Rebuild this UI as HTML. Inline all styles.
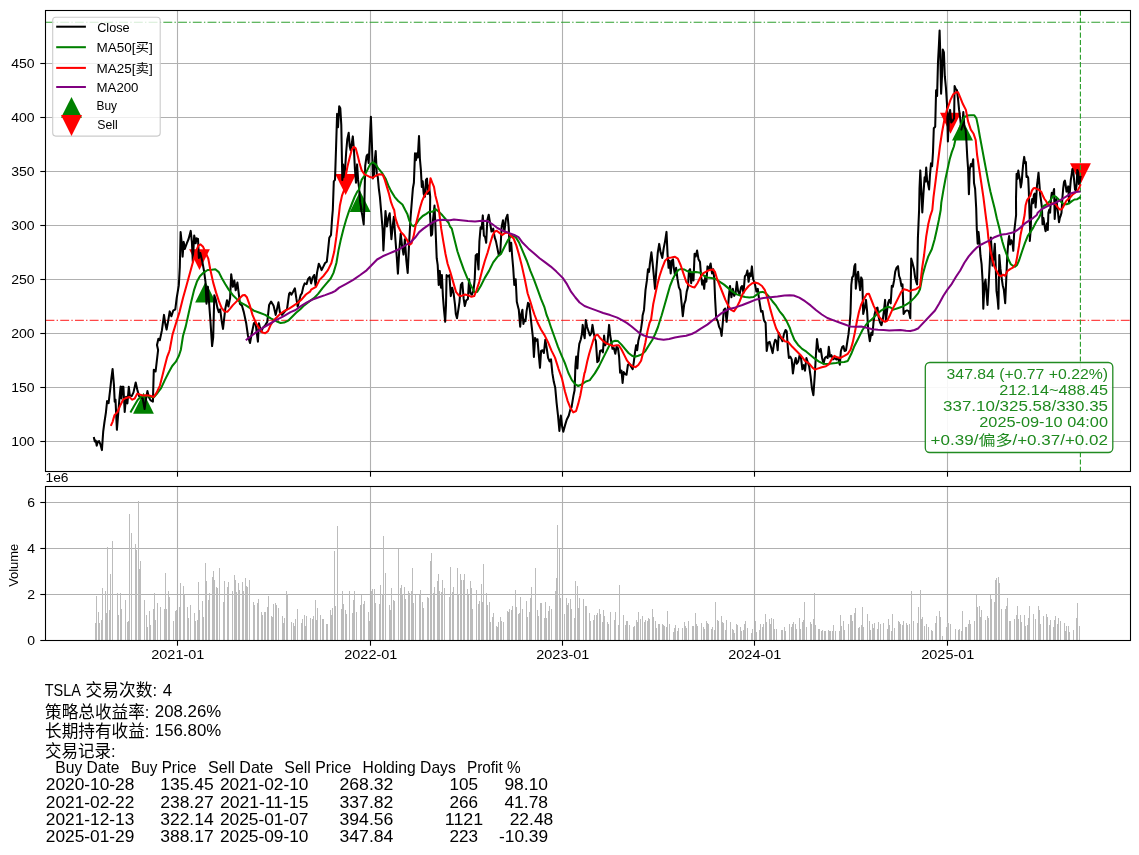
<!DOCTYPE html>
<html lang="zh"><head><meta charset="utf-8"><title>TSLA</title><style>html,body{margin:0;padding:0;background:#fff}svg{display:block}text{font-family:"Liberation Sans","Noto Sans CJK SC",sans-serif}</style></head><body>
<svg width="1139" height="855" viewBox="0 0 1139 855">
<rect width="1139" height="855" fill="#fff"/>
<defs><clipPath id="c1"><rect x="45.5" y="10.5" width="1085.0" height="461.0"/></clipPath><clipPath id="c2"><rect x="45.5" y="486.5" width="1085.0" height="154.0"/></clipPath></defs>
<g stroke="#b0b0b0" stroke-width="1.1" fill="none"><path d="M177.5 10.5V471.5"/><path d="M177.5 486.5V640.5"/><path d="M370.5 10.5V471.5"/><path d="M370.5 486.5V640.5"/><path d="M562.5 10.5V471.5"/><path d="M562.5 486.5V640.5"/><path d="M754.5 10.5V471.5"/><path d="M754.5 486.5V640.5"/><path d="M947.5 10.5V471.5"/><path d="M947.5 486.5V640.5"/><path d="M45.5 441.5H1130.5"/><path d="M45.5 387.5H1130.5"/><path d="M45.5 333.5H1130.5"/><path d="M45.5 279.5H1130.5"/><path d="M45.5 225.5H1130.5"/><path d="M45.5 171.5H1130.5"/><path d="M45.5 117.5H1130.5"/><path d="M45.5 63.5H1130.5"/><path d="M45.5 594.5H1130.5"/><path d="M45.5 548.5H1130.5"/><path d="M45.5 502.5H1130.5"/></g>
<path d="M95 622.7V640h1V622.7zM96 596.2V640h1V596.2zM98 612.2V640h1V612.2zM99 623.2V640h1V623.2zM101 619.8V640h1V619.8zM102 588.1V640h1V588.1zM105 591.0V640h1V591.0zM106 612.9V640h1V612.9zM107 547.0V640h1V547.0zM109 610.0V640h1V610.0zM110 574.1V640h1V574.1zM112 541.1V640h1V541.1zM117 593.2V640h1V593.2zM118 615.4V640h1V615.4zM120 593.2V640h1V593.2zM121 609.2V640h1V609.2zM125 600.1V640h1V600.1zM127 621.5V640h1V621.5zM128 620.8V640h1V620.8zM129 514.1V640h1V514.1zM131 533.3V640h1V533.3zM135 544.1V640h1V544.1zM136 549.7V640h1V549.7zM138 501.1V640h1V501.1zM139 568.7V640h1V568.7zM140 561.3V640h1V561.3zM144 600.1V640h1V600.1zM146 615.4V640h1V615.4zM147 627.2V640h1V627.2zM149 611.2V640h1V611.2zM150 625.2V640h1V625.2zM153 609.2V640h1V609.2zM154 593.2V640h1V593.2zM155 620.3V640h1V620.3zM157 603.3V640h1V603.3zM160 607.3V640h1V607.3zM164 609.2V640h1V609.2zM165 573.1V640h1V573.1zM166 609.2V640h1V609.2zM168 591.3V640h1V591.3zM169 596.9V640h1V596.9zM173 621.3V640h1V621.3zM175 611.2V640h1V611.2zM176 610.2V640h1V610.2zM179 607.3V640h1V607.3zM180 583.2V640h1V583.2zM183 586.1V640h1V586.1zM184 595.2V640h1V595.2zM187 607.3V640h1V607.3zM188 618.3V640h1V618.3zM190 605.3V640h1V605.3zM194 613.2V640h1V613.2zM195 621.3V640h1V621.3zM197 620.3V640h1V620.3zM198 582.2V640h1V582.2zM199 610.2V640h1V610.2zM202 601.1V640h1V601.1zM203 617.3V640h1V617.3zM205 563.0V640h1V563.0zM206 581.2V640h1V581.2zM208 600.1V640h1V600.1zM209 593.2V640h1V593.2zM212 577.0V640h1V577.0zM213 571.1V640h1V571.1zM214 580.2V640h1V580.2zM216 587.1V640h1V587.1zM217 588.1V640h1V588.1zM219 568.2V640h1V568.2zM223 602.3V640h1V602.3zM224 581.2V640h1V581.2zM227 587.1V640h1V587.1zM228 582.2V640h1V582.2zM232 591.3V640h1V591.3zM234 575.1V640h1V575.1zM235 580.2V640h1V580.2zM236 592.3V640h1V592.3zM238 583.2V640h1V583.2zM239 590.3V640h1V590.3zM242 582.2V640h1V582.2zM243 591.3V640h1V591.3zM245 578.0V640h1V578.0zM246 586.1V640h1V586.1zM247 587.1V640h1V587.1zM249 580.2V640h1V580.2zM253 602.3V640h1V602.3zM254 605.3V640h1V605.3zM257 603.3V640h1V603.3zM258 599.1V640h1V599.1zM261 612.2V640h1V612.2zM262 615.4V640h1V615.4zM264 612.2V640h1V612.2zM265 612.2V640h1V612.2zM267 607.3V640h1V607.3zM268 596.2V640h1V596.2zM271 616.4V640h1V616.4zM272 617.3V640h1V617.3zM273 604.3V640h1V604.3zM275 603.3V640h1V603.3zM276 605.3V640h1V605.3zM278 608.2V640h1V608.2zM282 616.4V640h1V616.4zM283 623.2V640h1V623.2zM284 618.3V640h1V618.3zM286 591.3V640h1V591.3zM287 594.2V640h1V594.2zM291 622.3V640h1V622.3zM293 623.2V640h1V623.2zM294 626.4V640h1V626.4zM295 619.3V640h1V619.3zM297 609.2V640h1V609.2zM301 623.2V640h1V623.2zM302 619.3V640h1V619.3zM304 615.4V640h1V615.4zM305 626.4V640h1V626.4zM306 616.4V640h1V616.4zM310 618.3V640h1V618.3zM312 619.3V640h1V619.3zM313 616.4V640h1V616.4zM315 600.1V640h1V600.1zM316 620.3V640h1V620.3zM317 608.2V640h1V608.2zM320 615.4V640h1V615.4zM322 619.3V640h1V619.3zM323 619.3V640h1V619.3zM326 624.2V640h1V624.2zM327 624.2V640h1V624.2zM330 610.2V640h1V610.2zM331 615.4V640h1V615.4zM332 608.2V640h1V608.2zM334 551.0V640h1V551.0zM335 606.3V640h1V606.3zM337 526.1V640h1V526.1zM341 609.2V640h1V609.2zM342 591.3V640h1V591.3zM343 604.3V640h1V604.3zM345 610.2V640h1V610.2zM346 614.4V640h1V614.4zM349 591.3V640h1V591.3zM352 613.2V640h1V613.2zM353 600.1V640h1V600.1zM354 591.3V640h1V591.3zM356 612.2V640h1V612.2zM360 605.3V640h1V605.3zM361 595.2V640h1V595.2zM363 604.3V640h1V604.3zM364 601.1V640h1V601.1zM368 612.2V640h1V612.2zM369 621.3V640h1V621.3zM371 591.3V640h1V591.3zM372 589.3V640h1V589.3zM374 589.3V640h1V589.3zM375 603.3V640h1V603.3zM379 604.3V640h1V604.3zM380 585.1V640h1V585.1zM382 594.2V640h1V594.2zM383 536.2V640h1V536.2zM385 573.1V640h1V573.1zM389 605.3V640h1V605.3zM390 610.2V640h1V610.2zM391 588.1V640h1V588.1zM393 600.1V640h1V600.1zM394 601.1V640h1V601.1zM398 549.0V640h1V549.0zM400 588.1V640h1V588.1zM401 585.1V640h1V585.1zM402 594.2V640h1V594.2zM404 587.1V640h1V587.1zM405 599.1V640h1V599.1zM408 591.3V640h1V591.3zM409 593.2V640h1V593.2zM411 591.3V640h1V591.3zM412 568.2V640h1V568.2zM413 603.3V640h1V603.3zM415 595.2V640h1V595.2zM419 595.2V640h1V595.2zM420 590.3V640h1V590.3zM422 602.3V640h1V602.3zM423 608.2V640h1V608.2zM427 597.2V640h1V597.2zM428 598.2V640h1V598.2zM430 561.0V640h1V561.0zM431 553.2V640h1V553.2zM433 593.2V640h1V593.2zM434 587.1V640h1V587.1zM437 581.2V640h1V581.2zM438 574.1V640h1V574.1zM439 591.3V640h1V591.3zM441 592.3V640h1V592.3zM442 580.2V640h1V580.2zM444 588.1V640h1V588.1zM449 597.2V640h1V597.2zM450 567.2V640h1V567.2zM452 592.3V640h1V592.3zM453 587.1V640h1V587.1zM457 568.2V640h1V568.2zM458 594.2V640h1V594.2zM460 574.1V640h1V574.1zM461 580.2V640h1V580.2zM463 580.2V640h1V580.2zM464 574.1V640h1V574.1zM467 589.3V640h1V589.3zM468 595.2V640h1V595.2zM470 581.2V640h1V581.2zM471 588.1V640h1V588.1zM472 609.2V640h1V609.2zM476 590.3V640h1V590.3zM478 604.3V640h1V604.3zM479 601.1V640h1V601.1zM481 584.1V640h1V584.1zM482 602.3V640h1V602.3zM483 564.2V640h1V564.2zM486 593.2V640h1V593.2zM487 605.3V640h1V605.3zM489 602.3V640h1V602.3zM490 622.3V640h1V622.3zM492 617.3V640h1V617.3zM493 613.2V640h1V613.2zM496 626.4V640h1V626.4zM497 627.4V640h1V627.4zM498 622.3V640h1V622.3zM500 617.3V640h1V617.3zM501 621.3V640h1V621.3zM503 622.3V640h1V622.3zM507 611.2V640h1V611.2zM508 612.2V640h1V612.2zM509 609.2V640h1V609.2zM511 610.2V640h1V610.2zM512 606.3V640h1V606.3zM515 590.3V640h1V590.3zM516 607.3V640h1V607.3zM518 614.4V640h1V614.4zM519 613.2V640h1V613.2zM520 597.2V640h1V597.2zM522 609.2V640h1V609.2zM526 601.1V640h1V601.1zM527 617.3V640h1V617.3zM529 612.2V640h1V612.2zM530 598.2V640h1V598.2zM531 587.1V640h1V587.1zM535 568.2V640h1V568.2zM537 610.2V640h1V610.2zM538 616.4V640h1V616.4zM540 603.3V640h1V603.3zM541 603.3V640h1V603.3zM544 618.3V640h1V618.3zM545 602.3V640h1V602.3zM546 618.3V640h1V618.3zM548 611.2V640h1V611.2zM549 606.3V640h1V606.3zM551 609.2V640h1V609.2zM555 591.3V640h1V591.3zM556 578.0V640h1V578.0zM557 525.2V640h1V525.2zM559 549.0V640h1V549.0zM560 598.2V640h1V598.2zM564 614.4V640h1V614.4zM566 598.2V640h1V598.2zM567 605.3V640h1V605.3zM568 603.3V640h1V603.3zM570 599.1V640h1V599.1zM571 609.2V640h1V609.2zM574 618.3V640h1V618.3zM575 581.2V640h1V581.2zM577 586.1V640h1V586.1zM578 608.2V640h1V608.2zM579 598.2V640h1V598.2zM583 599.1V640h1V599.1zM585 606.3V640h1V606.3zM586 606.3V640h1V606.3zM589 613.2V640h1V613.2zM590 621.3V640h1V621.3zM593 620.3V640h1V620.3zM594 615.4V640h1V615.4zM596 615.4V640h1V615.4zM597 613.2V640h1V613.2zM599 609.2V640h1V609.2zM600 614.4V640h1V614.4zM602 622.3V640h1V622.3zM603 610.2V640h1V610.2zM604 616.4V640h1V616.4zM607 622.3V640h1V622.3zM608 624.2V640h1V624.2zM610 612.2V640h1V612.2zM614 620.3V640h1V620.3zM615 612.2V640h1V612.2zM618 625.2V640h1V625.2zM619 585.1V640h1V585.1zM623 615.4V640h1V615.4zM625 625.2V640h1V625.2zM626 621.3V640h1V621.3zM627 621.3V640h1V621.3zM629 625.2V640h1V625.2zM633 627.4V640h1V627.4zM634 626.4V640h1V626.4zM636 620.3V640h1V620.3zM637 622.3V640h1V622.3zM638 612.2V640h1V612.2zM640 619.3V640h1V619.3zM642 616.4V640h1V616.4zM644 622.3V640h1V622.3zM645 620.3V640h1V620.3zM647 621.3V640h1V621.3zM648 618.3V640h1V618.3zM649 619.3V640h1V619.3zM652 609.2V640h1V609.2zM653 617.3V640h1V617.3zM655 621.3V640h1V621.3zM656 628.4V640h1V628.4zM658 624.2V640h1V624.2zM659 624.2V640h1V624.2zM662 624.2V640h1V624.2zM663 625.2V640h1V625.2zM664 626.4V640h1V626.4zM666 627.4V640h1V627.4zM667 611.2V640h1V611.2zM669 624.2V640h1V624.2zM673 632.3V640h1V632.3zM674 628.4V640h1V628.4zM675 625.2V640h1V625.2zM677 631.3V640h1V631.3zM678 628.4V640h1V628.4zM682 628.4V640h1V628.4zM684 622.3V640h1V622.3zM685 626.4V640h1V626.4zM686 628.4V640h1V628.4zM688 621.3V640h1V621.3zM692 626.4V640h1V626.4zM693 626.4V640h1V626.4zM695 613.2V640h1V613.2zM696 624.2V640h1V624.2zM697 626.4V640h1V626.4zM701 623.2V640h1V623.2zM703 627.4V640h1V627.4zM704 629.4V640h1V629.4zM706 621.3V640h1V621.3zM707 623.2V640h1V623.2zM708 624.2V640h1V624.2zM711 629.4V640h1V629.4zM712 627.4V640h1V627.4zM714 630.4V640h1V630.4zM715 602.3V640h1V602.3zM717 620.3V640h1V620.3zM718 621.3V640h1V621.3zM721 616.4V640h1V616.4zM722 622.3V640h1V622.3zM723 623.2V640h1V623.2zM725 630.4V640h1V630.4zM726 620.3V640h1V620.3zM730 622.3V640h1V622.3zM732 629.4V640h1V629.4zM733 630.4V640h1V630.4zM734 633.3V640h1V633.3zM736 624.2V640h1V624.2zM737 625.2V640h1V625.2zM740 627.4V640h1V627.4zM741 631.3V640h1V631.3zM743 630.4V640h1V630.4zM744 624.2V640h1V624.2zM745 621.3V640h1V621.3zM747 628.4V640h1V628.4zM751 633.3V640h1V633.3zM752 629.4V640h1V629.4zM755 621.3V640h1V621.3zM756 632.3V640h1V632.3zM759 630.4V640h1V630.4zM760 624.2V640h1V624.2zM762 627.4V640h1V627.4zM763 624.2V640h1V624.2zM765 614.4V640h1V614.4zM766 622.3V640h1V622.3zM769 619.3V640h1V619.3zM770 624.2V640h1V624.2zM771 618.3V640h1V618.3zM773 619.3V640h1V619.3zM774 629.4V640h1V629.4zM776 629.4V640h1V629.4zM781 630.4V640h1V630.4zM782 630.4V640h1V630.4zM784 627.4V640h1V627.4zM785 631.3V640h1V631.3zM789 624.2V640h1V624.2zM791 627.4V640h1V627.4zM792 624.2V640h1V624.2zM793 622.3V640h1V622.3zM795 624.2V640h1V624.2zM796 629.4V640h1V629.4zM799 618.3V640h1V618.3zM800 629.4V640h1V629.4zM802 622.3V640h1V622.3zM803 620.3V640h1V620.3zM804 602.3V640h1V602.3zM806 627.4V640h1V627.4zM810 622.3V640h1V622.3zM811 624.2V640h1V624.2zM813 619.3V640h1V619.3zM814 593.2V640h1V593.2zM815 625.2V640h1V625.2zM818 629.4V640h1V629.4zM819 629.4V640h1V629.4zM821 631.3V640h1V631.3zM822 630.4V640h1V630.4zM824 631.3V640h1V631.3zM825 631.3V640h1V631.3zM828 630.4V640h1V630.4zM829 631.3V640h1V631.3zM830 631.3V640h1V631.3zM832 631.3V640h1V631.3zM833 625.2V640h1V625.2zM835 631.3V640h1V631.3zM839 631.3V640h1V631.3zM840 615.4V640h1V615.4zM841 626.4V640h1V626.4zM843 621.3V640h1V621.3zM844 630.4V640h1V630.4zM848 624.2V640h1V624.2zM850 615.4V640h1V615.4zM851 615.4V640h1V615.4zM852 621.3V640h1V621.3zM854 613.2V640h1V613.2zM855 608.2V640h1V608.2zM858 628.4V640h1V628.4zM859 627.4V640h1V627.4zM861 625.2V640h1V625.2zM862 607.3V640h1V607.3zM863 627.4V640h1V627.4zM867 614.4V640h1V614.4zM869 621.3V640h1V621.3zM870 630.4V640h1V630.4zM872 624.2V640h1V624.2zM873 628.4V640h1V628.4zM874 623.2V640h1V623.2zM877 629.4V640h1V629.4zM878 622.3V640h1V622.3zM880 624.2V640h1V624.2zM883 623.2V640h1V623.2zM887 629.4V640h1V629.4zM888 619.3V640h1V619.3zM889 625.2V640h1V625.2zM891 631.3V640h1V631.3zM892 614.4V640h1V614.4zM894 628.4V640h1V628.4zM898 621.3V640h1V621.3zM899 622.3V640h1V622.3zM900 624.2V640h1V624.2zM902 625.2V640h1V625.2zM903 621.3V640h1V621.3zM906 623.2V640h1V623.2zM907 625.2V640h1V625.2zM909 624.2V640h1V624.2zM911 591.3V640h1V591.3zM913 621.3V640h1V621.3zM917 623.2V640h1V623.2zM918 607.3V640h1V607.3zM920 590.3V640h1V590.3zM921 619.3V640h1V619.3zM922 617.3V640h1V617.3zM924 626.4V640h1V626.4zM926 624.2V640h1V624.2zM928 627.4V640h1V627.4zM931 630.4V640h1V630.4zM932 631.3V640h1V631.3zM935 623.2V640h1V623.2zM936 616.4V640h1V616.4zM939 611.2V640h1V611.2zM940 617.3V640h1V617.3zM942 636.3V640h1V636.3zM946 627.4V640h1V627.4zM947 622.3V640h1V622.3zM948 623.2V640h1V623.2zM950 624.2V640h1V624.2zM955 629.4V640h1V629.4zM958 630.4V640h1V630.4zM959 629.4V640h1V629.4zM961 631.3V640h1V631.3zM962 611.2V640h1V611.2zM965 627.4V640h1V627.4zM966 627.4V640h1V627.4zM968 624.2V640h1V624.2zM969 620.3V640h1V620.3zM970 624.2V640h1V624.2zM974 621.3V640h1V621.3zM976 595.2V640h1V595.2zM977 607.3V640h1V607.3zM979 606.3V640h1V606.3zM980 617.3V640h1V617.3zM981 610.2V640h1V610.2zM985 620.3V640h1V620.3zM987 616.4V640h1V616.4zM988 618.3V640h1V618.3zM990 595.2V640h1V595.2zM991 599.1V640h1V599.1zM994 602.3V640h1V602.3zM995 580.2V640h1V580.2zM996 578.0V640h1V578.0zM998 577.3V640h1V577.3zM999 583.2V640h1V583.2zM1001 609.2V640h1V609.2zM1005 609.2V640h1V609.2zM1006 606.3V640h1V606.3zM1007 598.2V640h1V598.2zM1009 621.3V640h1V621.3zM1010 621.3V640h1V621.3zM1014 619.3V640h1V619.3zM1016 615.4V640h1V615.4zM1017 606.3V640h1V606.3zM1018 619.3V640h1V619.3zM1020 615.4V640h1V615.4zM1021 622.3V640h1V622.3zM1024 615.4V640h1V615.4zM1025 626.4V640h1V626.4zM1027 625.2V640h1V625.2zM1028 618.3V640h1V618.3zM1029 606.3V640h1V606.3zM1033 614.4V640h1V614.4zM1035 619.3V640h1V619.3zM1038 606.3V640h1V606.3zM1039 610.2V640h1V610.2zM1040 624.2V640h1V624.2zM1043 616.4V640h1V616.4zM1046 614.4V640h1V614.4zM1047 617.3V640h1V617.3zM1049 625.2V640h1V625.2zM1050 620.3V640h1V620.3zM1053 627.4V640h1V627.4zM1054 620.3V640h1V620.3zM1055 616.4V640h1V616.4zM1057 624.2V640h1V624.2zM1058 618.3V640h1V618.3zM1060 621.3V640h1V621.3zM1064 623.2V640h1V623.2zM1065 631.3V640h1V631.3zM1066 626.4V640h1V626.4zM1068 626.4V640h1V626.4zM1069 632.3V640h1V632.3zM1073 630.4V640h1V630.4zM1076 618.3V640h1V618.3zM1077 603.3V640h1V603.3zM1079 626.4V640h1V626.4z" fill="#bcbcbc" shape-rendering="crispEdges"/>
<g clip-path="url(#c1)" fill="none" stroke-linejoin="round" stroke-linecap="butt">
<path d="M143.5 392.8L133.1 413.7H153.9Z" fill="#008000" stroke="none"/>
<path d="M205.5 281.7L195.1 302.6H215.9Z" fill="#008000" stroke="none"/>
<path d="M360.1 191.0L349.7 211.9H370.6Z" fill="#008000" stroke="none"/>
<path d="M962.5 119.7L952.0 140.6H973.0Z" fill="#008000" stroke="none"/>
<path d="M199.5 270.1L189.1 249.2H209.9Z" fill="#ff0000" stroke="none"/>
<path d="M345.6 195.0L335.2 174.1H356.1Z" fill="#ff0000" stroke="none"/>
<path d="M950.5 133.7L940.0 112.8H961.0Z" fill="#ff0000" stroke="none"/>
<path d="M1080.5 184.2L1070.0 163.3H1090.9Z" fill="#ff0000" stroke="none"/>
<path d="M45.5 22.2H1130.5" stroke="#2fa02f" stroke-width="1.15" stroke-dasharray="8.9 2.22 1.39 2.22"/>
<path d="M45.5 320.4H1130.5" stroke="#ff0000" stroke-opacity="0.72" stroke-width="1.39" stroke-dasharray="8.9 2.22 1.39 2.22"/>
<path d="M1080.4 10.5V471.5" stroke="#2fa02f" stroke-width="1.15" stroke-dasharray="5.14 2.22"/>
<polyline points="93.8,437.0 94.8,441.5 95.8,440.6 96.7,445.6 97.9,441.5 99.1,441.1 100.4,444.3 101.9,450.1 103.2,431.7 104.4,422.5 105.9,412.6 107.1,401.0 108.6,403.1 110.2,389.3 111.4,378.2 112.6,369.0 113.9,384.4 114.7,401.6 115.5,399.7 116.9,429.8 118.2,413.9 119.4,399.1 120.6,386.6 121.5,398.5 122.2,386.8 123.4,386.8 124.7,412.0 126.1,396.7 127.4,403.4 128.8,386.8 129.8,395.4 131.7,396.1 133.5,392.4 135.7,382.5 137.2,389.3 139.0,396.1 140.9,397.3 142.7,398.5 144.6,409.0 146.0,399.1 147.4,391.1 148.9,397.3 150.7,400.4 152.9,401.6 153.8,369.7 155.6,371.5 156.8,361.1 158.1,350.0 157.0,345.0 158.4,338.8 159.8,340.2 161.9,330.4 164.0,314.9 165.2,323.3 166.6,329.6 168.0,321.9 169.7,311.4 171.4,316.3 173.2,310.7 175.3,309.3 176.7,298.0 178.8,285.4 179.8,267.1 180.6,232.0 182.0,245.4 182.6,256.6 183.7,241.9 184.8,248.9 186.8,243.3 188.6,239.0 190.7,230.9 191.9,241.9 192.8,261.5 194.2,235.5 195.7,243.3 196.6,238.3 198.0,239.0 198.9,258.0 200.3,253.1 202.3,261.5 204.1,271.4 205.5,281.9 206.5,303.7 207.9,286.8 209.0,301.6 210.4,320.5 212.1,346.1 213.2,337.4 214.3,295.2 215.7,299.4 217.4,307.9 218.8,312.1 220.2,309.3 221.6,320.5 223.0,328.9 225.2,309.3 227.0,300.2 228.4,306.5 230.1,298.0 231.2,274.2 232.9,286.8 234.3,280.5 235.7,290.3 237.4,282.6 238.8,293.8 239.9,303.7 242.0,305.8 243.8,312.1 246.2,323.3 248.0,336.0 250.0,343.0 251.8,333.2 253.9,323.3 255.4,321.9 257.9,341.6 258.9,323.3 261.0,331.8 263.1,327.5 265.2,325.4 267.3,321.9 269.1,305.1 271.1,301.6 273.6,305.8 275.7,314.9 278.5,302.3 279.9,312.1 282.0,314.9 284.9,311.4 287.0,309.3 289.1,293.8 290.0,292.5 291.4,294.6 293.1,291.8 294.9,288.3 296.3,298.2 297.7,306.6 299.1,301.0 300.5,295.4 301.9,293.2 303.3,286.9 304.7,283.4 306.6,284.1 308.0,279.2 309.7,277.1 311.1,283.4 312.5,277.8 314.2,275.0 315.6,285.5 317.0,272.9 318.8,263.7 320.2,266.6 321.6,270.1 323.7,265.9 325.1,263.0 326.8,261.6 327.9,251.8 329.3,237.8 331.0,235.0 332.1,218.1 332.8,210.0 333.8,181.3 335.0,179.9 336.1,146.2 337.1,113.9 338.0,127.2 339.2,106.2 340.3,108.3 341.3,125.1 342.3,179.9 343.1,164.4 344.1,177.1 345.1,168.7 346.2,151.8 347.3,139.2 348.7,132.8 349.7,146.2 350.7,150.4 351.8,143.4 352.8,136.4 353.9,149.0 354.9,168.7 356.0,182.7 357.1,164.4 358.1,179.9 359.1,188.3 360.2,202.4 361.6,210.0 360.9,208.3 362.3,215.3 363.7,224.4 364.4,204.0 365.2,165.9 366.6,156.0 367.5,154.6 368.7,163.0 369.8,140.6 370.9,116.7 372.0,146.2 372.9,178.5 374.0,174.3 374.8,160.2 375.7,151.1 376.8,174.3 377.8,177.1 378.8,188.3 379.9,196.8 381.3,213.2 382.7,230.7 383.4,250.4 384.4,232.1 385.5,211.1 386.9,226.5 388.3,218.1 389.7,213.2 391.4,239.2 392.8,225.1 393.9,216.7 395.4,239.2 396.8,257.4 397.9,273.6 399.3,250.4 400.7,233.5 402.1,246.2 403.5,254.6 404.9,239.2 406.3,260.2 407.7,272.9 409.1,243.4 410.5,218.1 412.2,197.0 412.9,188.3 413.9,182.7 415.0,153.2 416.0,160.2 417.0,153.2 417.8,157.4 419.0,136.1 419.9,158.8 420.9,170.1 421.8,186.9 422.7,181.3 423.7,193.9 424.9,196.8 426.0,179.9 427.0,178.5 427.9,193.9 429.1,185.5 430.2,196.8 430.0,213.3 431.1,235.7 432.1,234.3 433.1,218.9 434.5,205.5 435.6,230.1 436.7,258.2 437.7,265.2 438.7,284.9 439.8,270.9 441.0,287.7 441.9,275.1 442.9,296.1 444.0,310.0 445.2,321.8 446.0,305.0 446.6,275.1 448.0,276.5 449.4,275.1 450.8,296.1 452.2,287.7 453.6,293.3 455.0,304.6 455.8,314.0 457.0,318.3 458.6,308.0 459.5,301.8 460.9,284.9 462.3,282.8 463.7,298.9 464.8,306.0 466.2,300.4 467.9,298.9 469.1,279.3 470.5,293.3 471.9,294.7 473.5,290.5 474.7,279.3 475.7,255.4 477.1,254.0 478.5,269.4 479.4,241.4 480.6,227.3 481.7,228.7 482.8,215.4 483.9,235.7 485.1,237.1 486.2,242.8 487.3,220.3 488.7,214.7 490.1,223.1 491.5,231.5 493.2,228.7 494.6,237.1 496.0,241.4 497.4,248.4 498.8,255.4 500.2,254.0 501.6,227.3 503.0,220.3 504.4,231.5 505.9,218.9 507.5,214.7 508.7,227.3 509.8,251.2 511.2,242.8 512.2,256.8 513.2,268.0 514.3,284.9 515.7,279.3 516.8,301.8 518.2,307.4 518.8,309.8 520.2,326.7 521.3,314.0 522.4,309.8 523.4,323.9 524.4,319.7 525.5,321.1 526.6,311.2 528.0,302.8 529.2,304.2 530.3,314.0 531.7,326.7 532.8,336.5 533.9,356.9 535.1,337.9 536.2,340.7 537.5,339.3 538.9,356.2 540.0,367.8 541.1,350.9 542.5,350.2 543.9,353.0 545.3,339.7 546.7,348.1 548.1,357.9 549.6,361.4 551.0,359.3 552.4,373.4 553.8,381.8 555.2,387.4 556.6,402.9 558.0,415.5 559.4,431.0 560.8,415.5 562.2,426.8 563.3,431.7 565.0,425.4 566.7,419.7 568.8,415.5 570.2,409.9 571.6,407.1 573.4,395.9 574.6,390.2 575.4,366.4 576.2,356.5 577.4,368.5 578.2,353.7 579.3,343.9 580.7,339.7 581.9,334.0 582.7,324.9 583.8,334.0 584.7,338.3 585.8,320.0 587.1,327.0 588.5,331.2 589.9,335.5 591.3,333.3 592.5,324.9 593.7,332.6 594.8,338.3 595.9,341.1 597.3,362.1 598.7,360.7 600.1,350.9 601.5,350.2 602.9,352.3 604.1,335.5 605.2,345.3 606.3,342.5 607.4,343.2 609.1,324.9 610.2,335.5 611.4,342.5 612.5,348.8 613.9,348.1 615.3,353.7 616.6,346.7 618.0,348.1 619.1,356.5 620.1,372.7 621.5,370.6 622.6,382.9 623.7,372.0 625.1,374.1 626.5,374.8 627.9,365.0 629.3,363.5 631.0,366.4 632.7,369.2 633.8,362.1 635.0,352.3 636.1,345.3 637.2,350.2 638.3,341.1 639.7,335.5 641.1,328.4 642.3,320.0 642.6,315.5 644.0,309.9 645.5,290.2 646.9,280.4 648.0,269.2 649.0,272.0 649.9,263.5 651.4,252.3 652.5,262.1 653.6,273.4 655.0,288.8 656.4,269.2 657.8,252.3 659.2,243.9 660.6,252.3 662.3,257.9 663.7,248.1 665.1,241.1 666.5,231.9 667.6,255.1 668.6,267.8 669.6,260.7 670.7,273.4 671.9,260.7 673.0,259.3 673.8,267.8 675.0,274.8 676.1,267.8 677.5,279.0 678.9,287.4 680.3,290.2 681.7,304.3 682.8,316.2 684.2,304.3 685.6,300.1 686.7,291.6 687.9,287.4 689.0,270.6 690.1,269.2 691.2,283.2 692.4,273.4 693.5,280.4 694.6,253.7 695.7,256.5 697.1,250.6 698.5,259.3 700.0,262.1 701.1,276.2 702.2,284.6 703.0,280.4 704.2,288.8 705.3,276.2 706.4,281.8 707.5,266.4 708.9,269.2 710.6,263.5 712.0,273.4 713.2,269.2 714.3,279.0 715.1,298.7 716.2,318.3 717.7,321.1 719.1,326.8 720.5,329.6 721.6,335.9 722.7,323.9 723.8,309.9 725.2,308.5 726.6,321.8 727.8,309.9 728.9,295.9 730.0,286.0 731.4,297.3 732.8,288.8 734.2,295.9 735.6,293.0 736.8,281.8 738.2,291.6 739.6,294.4 741.0,287.4 742.1,286.0 743.5,293.0 744.9,276.2 746.3,274.8 747.4,270.6 748.6,281.8 749.7,273.4 750.8,276.2 751.9,266.4 753.1,279.0 754.2,281.8 755.3,286.0 756.4,291.6 757.8,288.8 759.0,298.7 761.1,311.7 762.5,311.0 763.9,320.1 765.6,322.9 766.7,351.0 768.1,342.6 769.6,341.9 771.0,346.8 772.6,353.1 774.0,344.0 775.2,339.8 776.6,341.2 777.7,350.3 778.8,332.8 779.9,335.6 781.1,338.4 782.5,341.2 783.9,334.2 785.6,330.0 786.7,331.4 787.8,346.8 788.9,358.0 790.3,356.6 791.7,359.4 792.9,373.5 794.3,363.7 795.7,358.0 796.8,363.7 798.2,361.6 799.6,355.2 801.0,358.0 802.4,369.3 803.8,365.1 805.0,370.7 806.4,358.0 807.8,362.3 809.2,366.5 810.6,376.3 812.0,388.9 813.4,395.3 814.8,374.9 815.9,355.2 817.0,339.1 818.2,348.2 819.3,351.7 820.7,348.9 822.1,358.0 823.5,363.7 824.9,358.0 826.3,356.6 827.7,358.0 828.8,346.8 830.0,356.6 831.4,355.2 833.0,359.4 834.7,358.0 836.4,359.4 838.1,358.0 839.8,364.8 840.9,351.0 842.3,346.8 843.4,346.1 844.6,351.0 846.0,350.3 847.4,341.2 848.5,334.2 849.6,324.3 850.5,313.1 851.3,285.0 852.2,277.4 853.3,276.0 854.4,266.2 855.3,264.1 855.8,288.7 857.0,277.4 858.1,271.8 858.9,280.2 860.1,290.1 861.2,277.4 862.3,280.2 863.2,313.9 864.6,308.3 866.0,299.9 867.1,311.1 868.2,330.0 869.8,341.2 871.3,332.8 872.4,334.9 873.5,322.4 874.7,313.9 876.1,308.3 877.5,307.6 878.6,316.8 880.0,322.4 881.4,325.2 882.8,319.6 883.9,311.1 885.1,299.9 885.9,321.0 887.0,311.1 888.2,302.7 889.3,299.9 890.7,303.4 891.8,285.9 892.9,286.6 894.1,280.2 895.2,271.8 896.6,267.6 898.0,266.2 899.1,276.0 900.2,278.8 901.4,285.9 902.5,284.4 903.6,313.9 905.3,311.1 907.0,310.4 908.7,311.1 910.3,318.2 911.2,258.5 912.6,263.4 914.0,269.0 915.1,277.4 916.2,281.6 917.1,284.4 917.9,238.1 918.5,224.0 919.1,210.0 919.5,188.7 920.3,170.4 921.2,188.7 922.3,212.5 923.4,194.3 924.6,177.4 925.4,181.6 926.2,167.6 927.1,180.2 927.9,183.0 929.1,189.4 929.9,176.0 931.0,163.4 932.1,166.2 933.0,152.1 933.8,128.3 935.2,126.8 936.1,90.2 937.1,95.9 938.0,62.1 938.9,45.3 939.6,30.5 940.3,55.1 941.1,93.7 942.0,76.2 942.8,49.5 943.9,52.3 944.8,76.2 945.9,87.4 947.0,104.3 947.9,141.5 949.0,115.5 950.1,109.9 951.2,122.5 952.6,121.1 954.1,118.3 954.6,86.0 955.7,88.8 956.9,90.2 958.0,98.7 959.1,109.9 960.2,118.3 961.4,129.6 962.5,123.9 963.3,112.0 964.4,126.8 965.6,129.6 966.4,140.9 967.3,157.8 968.1,169.0 968.9,194.3 969.8,169.0 970.9,164.1 972.0,166.2 973.2,159.2 974.0,183.0 975.1,188.7 976.2,208.3 976.8,229.0 977.7,243.8 978.5,231.9 979.6,243.1 980.5,255.7 981.6,264.2 982.7,282.4 983.3,308.8 984.4,285.2 985.5,279.6 986.6,293.7 987.5,304.9 988.6,285.2 989.7,264.2 990.9,237.5 991.7,251.5 992.5,265.6 993.7,257.1 994.8,243.8 995.6,262.8 996.5,290.9 997.6,299.3 998.4,308.8 999.3,255.0 1000.4,268.4 1001.5,276.8 1002.7,285.2 1003.8,289.4 1005.2,303.2 1006.3,278.2 1007.2,257.1 1008.3,241.7 1009.1,236.1 1010.2,244.5 1011.4,240.3 1012.5,243.1 1013.3,250.8 1014.2,231.9 1015.3,222.0 1016.1,215.0 1016.0,199.0 1016.6,173.7 1017.4,179.0 1018.3,170.6 1019.1,175.8 1020.0,180.0 1020.8,187.4 1021.7,182.1 1022.5,171.6 1023.3,163.2 1024.2,156.9 1025.0,163.2 1025.9,162.1 1026.5,176.9 1027.4,176.3 1028.2,177.9 1028.8,190.6 1029.5,213.7 1030.1,230.0 1029.8,241.0 1030.7,230.0 1031.4,205.3 1032.2,199.0 1033.0,203.2 1033.9,194.8 1034.7,193.7 1035.6,207.4 1036.2,199.0 1037.0,185.3 1037.7,180.0 1038.5,172.7 1039.4,184.2 1040.2,194.8 1041.0,200.1 1041.9,207.4 1042.5,224.3 1043.4,218.0 1044.2,223.2 1045.3,230.0 1045.6,231.2 1047.0,223.4 1047.8,230.0 1048.4,212.7 1049.3,209.5 1050.1,212.7 1051.0,199.0 1051.8,192.7 1052.6,194.8 1053.5,191.6 1054.1,189.0 1054.7,219.0 1055.6,205.3 1056.4,199.0 1057.3,207.4 1058.1,213.7 1059.0,222.2 1059.8,218.0 1060.6,215.9 1061.5,212.7 1062.3,199.0 1063.2,188.5 1064.0,182.1 1064.9,180.6 1065.7,185.3 1066.5,191.6 1067.4,189.5 1068.2,186.4 1069.1,203.2 1069.9,190.6 1070.8,180.0 1071.6,174.8 1072.4,169.0 1073.3,171.6 1074.1,180.0 1075.0,189.5 1075.8,190.6 1076.7,184.2 1077.3,170.0 1078.1,171.6 1079.0,184.2 1079.8,182.1 1080.6,175.8" stroke="#000" stroke-width="2.05"/>
<polyline points="130.4,412.4 134.1,405.9 137.8,399.7 140.9,396.7 143.3,395.7 146.4,396.1 150.1,396.7 153.8,397.3 157.5,393.0 161.1,388.1 164.8,380.1 168.5,372.7 172.2,366.0 175.9,361.7 179.0,355.5 180.8,350.0 183.0,336.0 185.8,326.1 188.6,313.5 191.4,300.9 194.2,289.6 197.1,281.2 199.9,276.3 203.4,272.8 207.6,270.0 211.8,269.7 215.3,269.2 218.8,272.1 221.6,277.7 225.2,284.0 228.7,289.6 232.9,295.2 237.1,299.4 241.3,303.0 245.5,305.1 249.7,307.9 253.9,310.7 259.6,312.8 265.2,314.9 270.8,318.4 276.4,321.2 280.6,323.0 284.1,322.6 288.4,320.5 291.9,317.0 296.1,312.8 300.3,309.3 304.5,305.1 310.0,300.9 313.9,298.2 318.1,293.9 322.3,288.3 326.5,283.4 330.7,278.5 333.5,272.9 336.4,263.0 338.5,250.4 340.6,240.6 343.4,229.3 346.2,219.5 349.0,211.1 351.8,204.0 354.6,197.0 357.4,191.4 358.8,190.0 361.6,179.9 364.4,175.7 367.3,170.1 370.1,164.4 372.9,162.3 375.7,164.4 378.5,168.7 382.0,172.9 385.5,178.5 388.3,185.5 391.1,191.1 394.6,196.8 398.2,201.0 402.4,204.5 405.2,210.0 407.3,213.9 409.4,220.9 411.5,225.1 413.6,226.2 416.4,223.7 419.2,219.5 422.7,216.0 426.3,213.9 429.1,211.8 432.6,211.8 435.4,209.0 438.9,211.8 442.4,215.3 445.9,219.5 448.7,223.0 450.0,226.5 451.8,228.7 454.6,240.0 457.4,251.2 460.2,259.6 463.7,269.4 467.2,277.9 470.7,284.9 474.2,291.9 477.1,291.9 480.6,286.3 484.8,277.9 489.0,270.9 493.2,262.4 497.4,256.8 500.9,254.0 504.4,247.0 508.0,240.0 511.5,235.7 515.7,237.1 519.2,242.8 522.7,251.2 526.9,261.0 530.4,270.9 533.9,279.3 537.5,289.1 541.0,298.9 544.5,307.4 546.6,315.0 548.0,318.3 550.8,326.7 554.3,336.5 557.8,346.4 561.3,354.8 564.9,363.2 568.4,373.0 571.9,380.1 575.4,384.3 578.2,386.0 581.7,384.3 585.9,381.5 590.0,380.1 590.6,379.0 594.8,373.4 599.0,366.4 603.2,357.9 606.7,350.9 609.5,345.3 612.3,341.8 615.2,340.8 618.0,341.1 621.5,344.6 625.0,348.8 628.5,353.0 632.0,355.8 634.8,356.8 638.3,355.8 641.8,354.4 645.4,350.9 648.9,345.3 652.4,339.7 655.2,334.0 658.0,327.0 660.1,320.0 661.6,315.5 664.4,305.7 667.2,295.9 670.0,286.0 672.8,279.0 675.7,273.4 678.5,269.9 681.3,268.9 684.1,269.4 687.6,271.3 691.8,272.3 696.0,272.0 700.2,272.7 703.7,275.5 707.3,277.6 711.5,277.9 715.7,279.0 719.9,281.8 724.1,284.6 728.3,288.1 732.5,291.6 736.8,294.4 741.0,295.9 745.2,297.0 749.4,297.5 753.6,297.0 757.1,294.4 759.9,292.3 762.7,291.9 765.6,293.0 769.1,296.6 772.6,301.5 776.1,305.7 779.6,311.3 783.1,315.5 786.6,321.1 790.0,328.2 790.9,331.4 794.4,339.8 797.9,344.7 802.1,348.9 806.4,351.7 810.6,355.2 814.8,358.7 819.0,361.6 823.2,363.7 827.4,363.9 831.6,363.4 835.9,363.0 840.1,362.3 844.3,362.0 847.8,360.9 851.3,353.8 854.1,346.8 856.9,341.2 859.7,335.6 862.5,330.0 865.4,325.7 868.2,322.2 871.0,320.1 874.5,316.6 878.0,313.1 881.5,310.3 885.0,308.2 887.8,306.8 890.6,307.5 893.4,309.6 897.7,308.2 901.9,306.8 906.1,304.7 910.3,301.9 914.5,297.6 918.0,293.4 920.0,289.2 922.7,274.6 925.5,264.8 928.3,256.4 931.8,249.3 934.6,239.5 936.8,229.7 938.9,219.8 940.7,210.0 941.3,202.7 943.4,190.1 945.5,178.8 947.6,169.0 949.7,159.2 951.8,152.1 953.9,146.5 955.3,140.2 957.4,134.6 959.5,128.3 961.9,121.9 964.4,117.0 967.3,115.6 970.8,115.3 974.3,115.3 976.4,118.4 978.2,126.9 979.9,136.7 982.0,147.9 984.1,159.2 986.2,170.4 988.3,181.6 990.4,191.5 992.5,199.9 994.6,208.3 996.8,218.2 998.9,226.6 999.8,230.0 1000.3,233.3 1002.4,241.7 1004.5,248.7 1006.6,254.3 1008.7,260.0 1010.8,264.2 1012.9,265.8 1015.0,266.7 1017.1,264.9 1019.2,260.0 1022.0,251.5 1024.9,243.1 1027.7,236.1 1030.5,231.9 1033.3,227.6 1036.1,222.0 1038.9,217.8 1040.3,215.0 1041.9,208.5 1044.0,205.8 1046.1,204.8 1048.2,202.7 1050.3,200.6 1052.4,196.9 1054.0,195.8 1056.1,196.9 1058.2,199.0 1060.3,201.1 1062.4,203.2 1064.5,204.3 1066.6,204.3 1069.3,203.2 1071.9,201.1 1074.5,199.5 1077.2,199.2 1079.3,197.9 1080.6,196.9" stroke="#008000" stroke-width="2.05"/>
<polyline points="110.8,425.9 112.6,421.8 114.5,415.1 117.5,412.0 120.6,404.7 123.1,399.7 126.1,397.9 129.2,397.0 132.3,399.7 134.7,398.5 137.2,393.6 139.7,394.5 142.7,395.4 146.4,395.2 150.1,395.7 153.8,396.9 156.8,392.4 159.9,385.6 162.4,375.8 164.8,366.0 167.0,357.4 169.1,351.8 169.7,350.0 172.5,334.6 176.0,323.3 179.5,312.1 183.0,298.0 186.5,285.4 190.0,272.8 193.5,260.1 196.4,250.3 198.5,245.4 200.6,244.4 203.1,246.8 205.5,252.4 208.3,258.7 210.4,270.0 213.2,282.6 216.0,292.4 218.8,300.9 221.6,307.9 224.4,311.4 227.3,311.8 230.1,308.6 232.9,305.1 236.4,301.6 239.9,298.0 242.7,295.2 244.8,295.0 246.9,297.3 249.7,305.1 252.5,314.9 256.1,323.3 259.6,328.9 262.4,332.5 265.2,333.2 268.0,331.1 270.8,324.7 273.6,320.5 276.4,317.7 280.6,313.5 284.9,310.7 289.1,308.6 293.3,305.8 297.5,303.0 301.7,299.4 305.9,294.5 310.0,291.7 311.1,289.7 316.0,286.9 319.5,279.9 323.7,275.7 327.9,270.1 331.4,263.0 334.2,251.8 336.4,236.4 338.5,218.1 339.9,205.5 342.0,195.6 344.1,190.0 345.5,177.1 347.6,165.9 349.7,157.4 351.8,149.7 353.9,146.9 355.7,148.3 357.4,154.6 359.5,163.0 361.6,170.1 364.4,174.3 367.3,175.7 370.1,177.1 372.9,177.8 375.7,175.7 379.2,174.3 382.7,174.7 384.8,179.9 386.9,186.9 389.0,193.9 391.1,202.4 393.2,208.0 394.2,210.0 395.4,218.1 398.2,226.5 401.0,232.1 403.8,235.0 406.6,239.2 409.4,244.8 411.5,243.4 413.6,236.4 415.7,225.1 417.8,216.7 419.9,208.3 422.0,201.2 424.1,196.3 427.0,192.1 429.1,190.0 430.5,178.2 432.2,182.7 434.0,186.9 435.4,195.4 437.2,202.4 438.9,210.0 441.2,228.7 443.3,241.4 445.5,254.0 447.6,263.8 450.4,272.3 453.2,282.1 456.0,291.9 458.8,295.4 461.6,295.9 465.1,294.5 468.6,295.4 471.4,296.8 474.2,296.1 476.4,290.5 479.2,282.1 482.0,270.9 484.8,261.0 487.6,252.6 490.4,242.8 492.5,235.7 494.6,231.8 496.7,230.8 499.5,232.9 502.3,235.0 505.2,232.9 508.0,232.6 510.8,235.7 513.6,238.5 516.4,245.6 519.2,255.4 522.0,266.6 524.8,279.3 527.6,293.3 530.4,301.8 532.5,308.8 534.6,315.0 537.5,322.5 541.0,329.5 544.5,335.1 548.0,342.1 551.5,350.6 555.0,357.6 558.5,368.8 562.0,378.7 564.9,391.3 567.7,401.1 570.5,408.2 573.3,412.4 576.1,411.0 578.2,403.9 580.3,395.5 582.4,384.3 584.5,373.0 585.0,372.0 587.1,362.1 589.2,353.7 591.3,346.7 593.4,339.7 595.5,335.5 597.6,334.7 600.4,338.3 603.2,341.1 606.0,343.2 609.5,344.6 613.0,346.0 616.6,345.3 618.7,345.3 621.5,349.5 624.3,355.1 627.1,360.7 629.9,364.2 632.7,366.4 635.5,367.1 638.3,365.0 641.1,360.7 643.2,352.3 645.4,342.5 647.5,331.2 649.6,322.8 651.0,320.0 653.2,304.3 655.3,294.4 657.4,284.6 659.5,276.2 662.3,267.8 665.1,260.7 667.9,257.9 671.4,257.6 675.0,256.8 677.8,258.6 680.6,265.0 683.4,273.4 686.2,281.8 689.0,285.3 691.8,286.7 694.6,287.4 697.4,283.2 700.2,277.6 703.0,273.4 706.6,271.3 710.1,269.9 712.9,269.4 715.0,272.0 717.1,279.0 719.9,286.0 722.7,293.0 725.5,300.1 728.3,305.7 731.1,309.9 733.9,311.3 736.8,307.1 739.6,301.5 742.4,294.4 745.2,290.2 748.7,286.0 752.2,283.2 755.0,282.5 758.5,283.5 762.0,286.0 764.9,290.2 767.7,298.7 770.5,309.9 773.3,319.7 776.1,328.2 778.9,333.8 781.7,338.0 783.8,340.0 784.6,341.2 788.1,341.9 792.3,346.8 796.5,351.0 800.7,355.2 805.0,360.9 809.2,363.7 812.7,367.9 815.1,369.6 817.6,368.6 821.8,367.2 826.0,366.2 828.8,364.4 831.6,359.4 834.4,355.9 837.3,357.3 840.1,358.0 844.3,355.9 847.8,353.8 850.6,349.6 852.7,342.6 854.8,332.8 856.9,321.5 859.0,311.7 861.1,304.7 863.9,299.0 866.8,294.1 868.9,293.7 871.0,299.0 873.8,306.1 876.6,311.7 879.4,317.3 882.2,320.1 885.0,321.8 887.1,320.8 889.9,315.2 892.7,308.9 895.6,303.3 898.4,297.6 901.2,292.0 904.0,289.2 906.8,289.9 909.6,291.3 912.4,289.9 915.9,289.2 920.0,286.4 922.0,269.0 924.1,255.0 926.2,236.7 928.3,224.0 930.4,215.6 932.3,210.0 933.5,197.1 935.7,180.2 937.8,163.4 939.9,146.5 942.0,132.5 944.1,121.2 946.2,112.8 946.9,110.0 947.6,108.5 950.4,100.1 953.2,94.4 956.0,92.3 958.1,92.3 960.2,97.3 963.0,104.3 965.9,109.9 968.0,121.1 970.8,129.6 973.6,133.8 975.7,140.0 977.1,155.0 979.2,169.0 981.3,183.0 983.4,197.1 985.5,213.9 987.6,230.0 988.3,237.5 990.4,250.1 992.5,260.0 994.6,267.0 996.8,271.2 998.9,275.4 1001.0,276.1 1003.1,274.7 1005.2,275.7 1007.3,271.2 1010.1,269.1 1012.9,267.7 1015.7,264.2 1017.1,257.1 1019.0,245.9 1020.6,234.7 1022.7,224.8 1024.6,215.0 1025.6,205.3 1027.1,200.1 1028.7,197.9 1030.3,195.8 1031.9,190.6 1033.5,188.3 1035.0,187.9 1036.6,189.0 1038.2,189.3 1039.8,190.6 1041.4,192.1 1042.9,195.8 1044.5,199.0 1046.1,201.1 1047.7,204.3 1049.3,204.8 1051.4,203.7 1053.5,203.2 1055.6,204.3 1057.7,207.4 1059.8,209.5 1061.4,209.5 1063.0,207.4 1064.5,204.3 1066.1,201.1 1068.2,199.0 1070.3,197.4 1072.4,194.8 1074.5,193.2 1076.7,191.6 1078.2,189.5 1079.8,186.4 1080.6,184.2" stroke="#ff0000" stroke-width="2.05"/>
<polyline points="245.8,340.2 251.1,336.0 256.8,331.8 262.4,328.2 269.4,324.0 276.4,319.8 283.4,316.3 290.5,312.1 295.6,310.0 301.2,305.9 306.9,302.4 312.5,299.6 318.1,297.5 325.1,295.1 332.1,292.5 335.0,291.1 339.2,287.6 346.2,283.8 353.2,279.9 360.2,275.0 366.6,270.3 371.5,265.2 377.1,259.5 382.7,256.3 388.3,253.9 393.9,251.5 399.6,249.0 405.2,245.5 410.8,242.0 415.0,237.8 419.2,232.1 423.4,228.6 428.4,225.1 433.3,222.0 437.5,220.2 442.4,219.8 447.3,220.2 450.0,220.2 453.9,219.6 460.9,220.3 467.9,221.0 475.0,221.4 482.0,220.7 487.6,221.0 491.8,223.8 497.4,228.0 503.0,230.8 508.7,232.9 514.3,235.0 518.5,237.1 522.7,242.8 528.3,248.4 533.9,253.3 539.6,258.2 545.2,262.4 550.8,266.6 556.4,271.6 562.7,277.9 567.0,284.2 571.2,291.9 575.4,297.5 579.6,302.5 584.5,306.0 590.0,308.1 596.2,310.4 603.2,313.0 610.2,315.1 617.3,317.6 622.9,320.6 627.1,323.1 631.3,326.3 635.5,329.8 639.7,333.3 643.9,335.5 648.2,336.9 652.4,337.6 658.0,339.0 663.6,339.7 669.2,339.0 674.9,337.6 680.5,336.6 686.1,335.7 691.7,334.0 695.9,331.9 700.0,329.1 707.3,324.6 714.3,319.0 721.3,313.4 728.3,309.2 735.4,307.4 742.4,305.0 749.4,302.2 756.4,299.4 763.4,298.0 770.5,297.3 777.5,296.6 784.5,295.6 790.0,295.2 793.7,295.5 799.3,297.6 805.0,301.2 810.6,305.4 816.2,310.3 821.8,314.5 827.4,318.0 833.0,320.1 838.7,322.2 844.3,324.3 849.9,326.4 855.5,326.7 861.1,326.4 866.8,327.8 872.4,329.2 878.0,329.7 883.6,330.0 889.2,330.4 894.9,330.2 900.5,330.0 906.1,330.7 910.3,331.1 914.5,330.0 918.0,328.5 920.0,326.4 935.0,310.5 939.2,303.5 943.4,295.8 947.6,289.4 951.8,283.8 956.0,276.8 960.2,270.5 964.4,262.8 968.7,256.4 972.9,251.5 977.1,247.3 981.3,244.5 985.5,242.4 989.7,240.3 993.9,237.5 998.2,235.8 1002.4,234.4 1006.6,234.0 1010.8,233.0 1014.3,232.1 1017.8,229.7 1021.3,226.9 1024.9,223.4 1029.1,220.6 1033.3,217.8 1036.8,215.0 1037.7,212.7 1041.9,209.0 1046.1,206.9 1050.3,204.8 1054.5,203.2 1058.7,201.1 1063.0,198.5 1067.2,195.8 1071.4,193.2 1075.6,191.9 1080.6,191.6" stroke="#800080" stroke-width="2.05"/>
</g>
<g stroke="#000" stroke-width="1.1" fill="none">
<rect x="45.5" y="10.5" width="1085.0" height="461.0"/>
<rect x="45.5" y="486.5" width="1085.0" height="154.0"/>
<path d="M177.5 471.5v5.2"/>
<path d="M177.5 640.5v5.2"/>
<path d="M370.5 471.5v5.2"/>
<path d="M370.5 640.5v5.2"/>
<path d="M562.5 471.5v5.2"/>
<path d="M562.5 640.5v5.2"/>
<path d="M754.5 471.5v5.2"/>
<path d="M754.5 640.5v5.2"/>
<path d="M947.5 471.5v5.2"/>
<path d="M947.5 640.5v5.2"/>
<path d="M45.5 441.5h-5.2"/>
<path d="M45.5 387.5h-5.2"/>
<path d="M45.5 333.5h-5.2"/>
<path d="M45.5 279.5h-5.2"/>
<path d="M45.5 225.5h-5.2"/>
<path d="M45.5 171.5h-5.2"/>
<path d="M45.5 117.5h-5.2"/>
<path d="M45.5 63.5h-5.2"/>
<path d="M45.5 640.5h-5.2"/>
<path d="M45.5 594.5h-5.2"/>
<path d="M45.5 548.5h-5.2"/>
<path d="M45.5 502.5h-5.2"/>
</g>
<g font-family="'Liberation Sans', 'Noto Sans CJK SC', sans-serif">
<text x="34.6" y="446.0" font-size="12.4" text-anchor="end" textLength="23.4" lengthAdjust="spacingAndGlyphs" fill="#000">100</text>
<text x="34.6" y="392.0" font-size="12.4" text-anchor="end" textLength="23.4" lengthAdjust="spacingAndGlyphs" fill="#000">150</text>
<text x="34.6" y="338.0" font-size="12.4" text-anchor="end" textLength="23.4" lengthAdjust="spacingAndGlyphs" fill="#000">200</text>
<text x="34.6" y="284.0" font-size="12.4" text-anchor="end" textLength="23.4" lengthAdjust="spacingAndGlyphs" fill="#000">250</text>
<text x="34.6" y="230.0" font-size="12.4" text-anchor="end" textLength="23.4" lengthAdjust="spacingAndGlyphs" fill="#000">300</text>
<text x="34.6" y="176.0" font-size="12.4" text-anchor="end" textLength="23.4" lengthAdjust="spacingAndGlyphs" fill="#000">350</text>
<text x="34.6" y="122.0" font-size="12.4" text-anchor="end" textLength="23.4" lengthAdjust="spacingAndGlyphs" fill="#000">400</text>
<text x="34.6" y="68.0" font-size="12.4" text-anchor="end" textLength="23.4" lengthAdjust="spacingAndGlyphs" fill="#000">450</text>
<text x="35.1" y="645.0" font-size="12.4" text-anchor="end" textLength="7.8" lengthAdjust="spacingAndGlyphs" fill="#000">0</text>
<text x="35.1" y="599.0" font-size="12.4" text-anchor="end" textLength="7.8" lengthAdjust="spacingAndGlyphs" fill="#000">2</text>
<text x="35.1" y="553.0" font-size="12.4" text-anchor="end" textLength="7.8" lengthAdjust="spacingAndGlyphs" fill="#000">4</text>
<text x="35.1" y="507.0" font-size="12.4" text-anchor="end" textLength="7.8" lengthAdjust="spacingAndGlyphs" fill="#000">6</text>
<text x="177.8" y="658.6" font-size="12.4" text-anchor="middle" textLength="53.0" lengthAdjust="spacingAndGlyphs" fill="#000">2021-01</text>
<text x="370.8" y="658.6" font-size="12.4" text-anchor="middle" textLength="53.0" lengthAdjust="spacingAndGlyphs" fill="#000">2022-01</text>
<text x="562.8" y="658.6" font-size="12.4" text-anchor="middle" textLength="53.0" lengthAdjust="spacingAndGlyphs" fill="#000">2023-01</text>
<text x="754.8" y="658.6" font-size="12.4" text-anchor="middle" textLength="53.0" lengthAdjust="spacingAndGlyphs" fill="#000">2024-01</text>
<text x="947.8" y="658.6" font-size="12.4" text-anchor="middle" textLength="53.0" lengthAdjust="spacingAndGlyphs" fill="#000">2025-01</text>
<text x="45.5" y="482.0" font-size="12.3" textLength="23.0" lengthAdjust="spacingAndGlyphs" fill="#000">1e6</text>
<text transform="translate(17.5,565.3) rotate(-90)" text-anchor="middle" font-size="12.3" textLength="43" lengthAdjust="spacingAndGlyphs">Volume</text>
</g>
<rect x="52.7" y="17.3" width="107.5" height="118.8" rx="3" fill="#fff" fill-opacity="0.8" stroke="#ccc" stroke-width="1.1"/>
<g fill="none" stroke-width="2.05">
<path d="M56.2 26.7H85.9" stroke="#000"/>
<path d="M56.2 47.2H85.9" stroke="#008000"/>
<path d="M56.2 67.9H85.9" stroke="#ff0000"/>
<path d="M56.2 87.0H85.9" stroke="#800080"/>
</g>
<path d="M71.5 96.9L61.0 117.8H82.0Z" fill="#008000" stroke="none"/>
<path d="M71.5 135.9L61.0 115.0H82.0Z" fill="#ff0000" stroke="none"/>
<g font-family="'Liberation Sans', 'Noto Sans CJK SC', sans-serif">
<text x="97.2" y="32.0" font-size="12.3" textLength="32.5" lengthAdjust="spacingAndGlyphs" fill="#000">Close</text>
<text x="96.5" y="51.6" font-size="12.3" textLength="56.3" lengthAdjust="spacingAndGlyphs" fill="#000">MA50[买]</text>
<text x="96.5" y="72.5" font-size="12.3" textLength="56.3" lengthAdjust="spacingAndGlyphs" fill="#000">MA25[卖]</text>
<text x="96.5" y="92.0" font-size="12.3" textLength="42.0" lengthAdjust="spacingAndGlyphs" fill="#000">MA200</text>
<text x="96.5" y="109.5" font-size="12.3" textLength="20.5" lengthAdjust="spacingAndGlyphs" fill="#000">Buy</text>
<text x="97.2" y="128.5" font-size="12.3" textLength="20.5" lengthAdjust="spacingAndGlyphs" fill="#000">Sell</text>
</g>
<rect x="925.3" y="362.5" width="187.5" height="90" rx="4.5" fill="#fff" fill-opacity="0.9" stroke="#228b22" stroke-width="1.3"/>
<g font-family="'Liberation Sans', 'Noto Sans CJK SC', sans-serif">
<text x="1108.0" y="378.6" font-size="14.0" text-anchor="end" textLength="161.4" lengthAdjust="spacingAndGlyphs" fill="#1f8a1f">347.84 (+0.77 +0.22%)</text>
<text x="1108.0" y="395.0" font-size="14.0" text-anchor="end" textLength="108.7" lengthAdjust="spacingAndGlyphs" fill="#1f8a1f">212.14~488.45</text>
<text x="1108.0" y="410.8" font-size="14.0" text-anchor="end" textLength="164.9" lengthAdjust="spacingAndGlyphs" fill="#1f8a1f">337.10/325.58/330.35</text>
<text x="1108.0" y="426.6" font-size="14.0" text-anchor="end" textLength="128.7" lengthAdjust="spacingAndGlyphs" fill="#1f8a1f">2025-09-10 04:00</text>
<text x="1108.0" y="445.0" font-size="14.0" text-anchor="end" textLength="177.4" lengthAdjust="spacingAndGlyphs" fill="#1f8a1f">+0.39/偏多/+0.37/+0.02</text>
</g>
<g font-family="'Liberation Sans', 'Noto Sans CJK SC', sans-serif" font-size="16">
<text x="44.8" y="696.1" font-size="16.4" textLength="36.1" lengthAdjust="spacingAndGlyphs" fill="#000">TSLA</text>
<text x="85.6" y="696.2" font-size="17.0" textLength="71.5" lengthAdjust="spacingAndGlyphs" fill="#000">交易次数:</text>
<text x="162.8" y="696.1" font-size="16.0" textLength="9.3" lengthAdjust="spacingAndGlyphs" fill="#000">4</text>
<text x="45.0" y="717.9" font-size="17.0" textLength="104.4" lengthAdjust="spacingAndGlyphs" fill="#000">策略总收益率:</text>
<text x="154.8" y="717.2" font-size="15.6" textLength="66.4" lengthAdjust="spacingAndGlyphs" fill="#000">208.26%</text>
<text x="45.0" y="737.3" font-size="17.0" textLength="104.4" lengthAdjust="spacingAndGlyphs" fill="#000">长期持有收益:</text>
<text x="154.8" y="736.2" font-size="15.6" textLength="66.4" lengthAdjust="spacingAndGlyphs" fill="#000">156.80%</text>
<text x="45.0" y="756.7" font-size="17.0" textLength="70.6" lengthAdjust="spacingAndGlyphs" fill="#000">交易记录:</text>
<text x="55.3" y="773.3" font-size="16.4" textLength="64.2" lengthAdjust="spacingAndGlyphs" fill="#000">Buy Date</text>
<text x="131.1" y="773.3" font-size="16.4" textLength="65.4" lengthAdjust="spacingAndGlyphs" fill="#000">Buy Price</text>
<text x="208.0" y="773.3" font-size="16.4" textLength="65.3" lengthAdjust="spacingAndGlyphs" fill="#000">Sell Date</text>
<text x="284.3" y="773.3" font-size="16.4" textLength="67.0" lengthAdjust="spacingAndGlyphs" fill="#000">Sell Price</text>
<text x="362.6" y="773.3" font-size="16.4" textLength="93.2" lengthAdjust="spacingAndGlyphs" fill="#000">Holding Days</text>
<text x="466.9" y="773.3" font-size="16.4" textLength="53.8" lengthAdjust="spacingAndGlyphs" fill="#000">Profit %</text>
<text x="45.8" y="789.6" font-size="15.6" textLength="88.5" lengthAdjust="spacingAndGlyphs" fill="#000">2020-10-28</text>
<text x="160.2" y="789.6" font-size="15.6" textLength="53.5" lengthAdjust="spacingAndGlyphs" fill="#000">135.45</text>
<text x="220.0" y="789.6" font-size="15.6" textLength="88.5" lengthAdjust="spacingAndGlyphs" fill="#000">2021-02-10</text>
<text x="339.5" y="789.6" font-size="15.6" textLength="53.9" lengthAdjust="spacingAndGlyphs" fill="#000">268.32</text>
<text x="449.5" y="789.6" font-size="15.6" textLength="28.6" lengthAdjust="spacingAndGlyphs" fill="#000">105</text>
<text x="504.4" y="789.6" font-size="15.6" textLength="43.7" lengthAdjust="spacingAndGlyphs" fill="#000">98.10</text>
<text x="45.8" y="807.5" font-size="15.6" textLength="88.5" lengthAdjust="spacingAndGlyphs" fill="#000">2021-02-22</text>
<text x="160.2" y="807.5" font-size="15.6" textLength="53.5" lengthAdjust="spacingAndGlyphs" fill="#000">238.27</text>
<text x="220.0" y="807.5" font-size="15.6" textLength="88.5" lengthAdjust="spacingAndGlyphs" fill="#000">2021-11-15</text>
<text x="339.5" y="807.5" font-size="15.6" textLength="53.9" lengthAdjust="spacingAndGlyphs" fill="#000">337.82</text>
<text x="449.5" y="807.5" font-size="15.6" textLength="28.6" lengthAdjust="spacingAndGlyphs" fill="#000">266</text>
<text x="504.4" y="807.5" font-size="15.6" textLength="43.7" lengthAdjust="spacingAndGlyphs" fill="#000">41.78</text>
<text x="45.8" y="825.0" font-size="15.6" textLength="88.5" lengthAdjust="spacingAndGlyphs" fill="#000">2021-12-13</text>
<text x="160.2" y="825.0" font-size="15.6" textLength="53.5" lengthAdjust="spacingAndGlyphs" fill="#000">322.14</text>
<text x="220.0" y="825.0" font-size="15.6" textLength="88.5" lengthAdjust="spacingAndGlyphs" fill="#000">2025-01-07</text>
<text x="339.5" y="825.0" font-size="15.6" textLength="53.9" lengthAdjust="spacingAndGlyphs" fill="#000">394.56</text>
<text x="444.8" y="825.0" font-size="15.6" textLength="38.4" lengthAdjust="spacingAndGlyphs" fill="#000">1121</text>
<text x="509.7" y="825.0" font-size="15.6" textLength="43.6" lengthAdjust="spacingAndGlyphs" fill="#000">22.48</text>
<text x="45.8" y="841.9" font-size="15.6" textLength="88.5" lengthAdjust="spacingAndGlyphs" fill="#000">2025-01-29</text>
<text x="160.2" y="841.9" font-size="15.6" textLength="53.5" lengthAdjust="spacingAndGlyphs" fill="#000">388.17</text>
<text x="220.0" y="841.9" font-size="15.6" textLength="88.5" lengthAdjust="spacingAndGlyphs" fill="#000">2025-09-10</text>
<text x="339.5" y="841.9" font-size="15.6" textLength="53.9" lengthAdjust="spacingAndGlyphs" fill="#000">347.84</text>
<text x="449.5" y="841.9" font-size="15.6" textLength="28.6" lengthAdjust="spacingAndGlyphs" fill="#000">223</text>
<text x="499.0" y="841.9" font-size="15.6" textLength="49.1" lengthAdjust="spacingAndGlyphs" fill="#000">-10.39</text>
</g>
</svg>
</body></html>
